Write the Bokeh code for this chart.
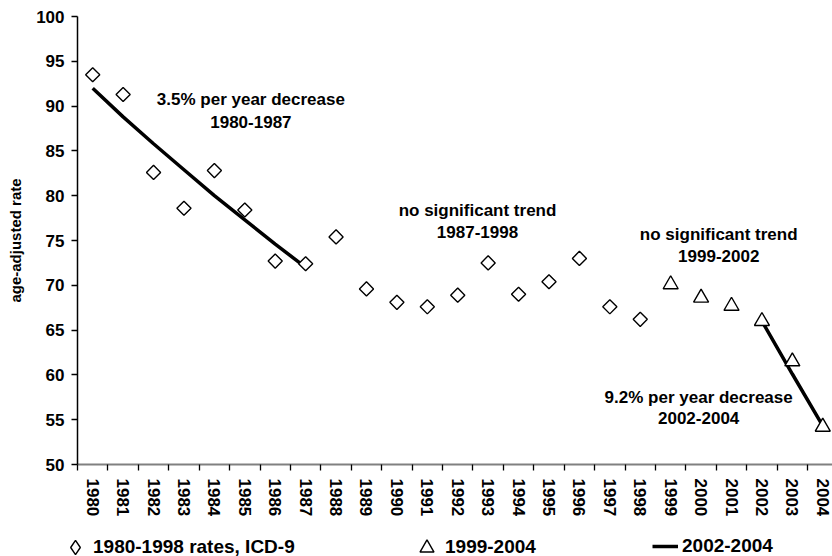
import math
from bokeh.plotting import figure
from bokeh.layouts import column
from bokeh.models import Range1d, FixedTicker, Label, Legend, LegendItem
from bokeh.embed import file_html
from bokeh.resources import INLINE

# ---------------- data ----------------
year_ticks = [1980, 1981, 1982, 1983, 1984, 1985, 1986, 1987, 1988, 1989,
              1990, 1991, 1992, 1993, 1994, 1995, 1996, 1997, 1998, 1999,
              2000, 2001, 2002, 2003, 2004]

icd9_years = [1980, 1981, 1982, 1983, 1984, 1985, 1986, 1987, 1988, 1989,
              1990, 1991, 1992, 1993, 1994, 1995, 1996, 1997, 1998]
icd9_rates = [93.5, 91.3, 82.6, 78.6, 82.8, 78.4, 72.7, 72.4, 75.4, 69.6,
              68.1, 67.6, 68.9, 72.5, 69.0, 70.4, 73.0, 67.6, 66.2]

icd10_years = [1999, 2000, 2001, 2002, 2003, 2004]
icd10_rates = [70.1, 68.6, 67.7, 66.0, 61.5, 54.2]

trend1_years = [1980, 1981, 1982, 1983, 1984, 1985, 1986, 1987]
trend1_rates = [92.0, 88.8, 85.8, 82.9, 80.0, 77.3, 74.6, 72.0]

trend2_years = [2002, 2003, 2004]
trend2_rates = [66.0, 60.1, 54.3]

y_ticks = [50, 55, 60, 65, 70, 75, 80, 85, 90, 95, 100]

legend_labels = ["1980-1998 rates, ICD-9", "1999-2004", "2002-2004"]

annotations = [
    ("3.5% per year decrease", 1985.2, 90.7),
    ("1980-1987", 1985.2, 88.2),
    ("no significant trend", 1992.65, 78.4),
    ("1987-1998", 1992.65, 76.0),
    ("no significant trend", 2000.58, 75.7),
    ("1999-2002", 2000.58, 73.3),
    ("9.2% per year decrease", 1999.92, 57.5),
    ("2002-2004", 1999.92, 55.2),
]

FONT = "Liberation Sans"

diamond_style = dict(marker="square", size=10, angle=math.pi / 4,
                     fill_color="white", line_color="black", line_width=1.4)
triangle_style = dict(marker="triangle", size=15, fill_color="white",
                      line_color="black", line_width=1.4)
trend_style = dict(line_color="black", line_width=3.5)

# ---------------- main figure ----------------
p = figure(width=832, height=520, output_backend="svg", toolbar_location=None,
           x_range=Range1d(1979.5, 2004.32), y_range=Range1d(50, 100),
           min_border_left=77, min_border_right=0, min_border_top=16,
           min_border_bottom=56)
p.outline_line_color = None
p.grid.visible = False
p.background_fill_color = "white"
p.border_fill_color = "white"

# x axis: labels at year centres, tick marks at category boundaries
xa = p.xaxis[0]
xa.ticker = FixedTicker(ticks=year_ticks,
                        minor_ticks=[y - 0.5 for y in year_ticks] + [year_ticks[-1] + 0.5])
xa.major_tick_line_color = None
xa.major_tick_out = 6
xa.major_tick_in = 0
xa.minor_tick_line_color = "black"
xa.minor_tick_line_width = 1.3
xa.minor_tick_out = 6
xa.minor_tick_in = 0
xa.axis_line_color = "#808080"
xa.axis_line_width = 2
xa.major_label_orientation = "vertical"
xa.major_label_standoff = 8
xa.major_label_text_font = FONT
xa.major_label_text_font_style = "bold"
xa.major_label_text_font_size = "17px"
xa.major_label_text_color = "black"

ya = p.yaxis[0]
ya.ticker = FixedTicker(ticks=y_ticks)
ya.axis_line_color = "black"
ya.axis_line_width = 1.5
ya.major_tick_line_color = "black"
ya.major_tick_line_width = 1.3
ya.major_tick_out = 6
ya.major_tick_in = 0
ya.minor_tick_line_color = None
ya.major_label_standoff = 7
ya.major_label_text_font = FONT
ya.major_label_text_font_style = "bold"
ya.major_label_text_font_size = "17px"
ya.major_label_text_color = "black"
ya.axis_label = "age-adjusted rate"
ya.axis_label_text_font = FONT
ya.axis_label_text_font_style = "bold"
ya.axis_label_text_font_size = "15px"
ya.axis_label_text_color = "black"
ya.axis_label_standoff = 9

p.line(trend1_years, trend1_rates, **trend_style)
p.line(trend2_years, trend2_rates, **trend_style)
p.scatter(icd9_years, icd9_rates, **diamond_style)
p.scatter(icd10_years, icd10_rates, **triangle_style)

for txt, x, y in annotations:
    p.add_layout(Label(x=x, y=y, text=txt, text_align="center",
                       text_baseline="middle", text_font=FONT,
                       text_font_style="bold", text_font_size="17px",
                       text_color="black"))

# ---------------- legend strip (below the chart) ----------------
# a strip whose ranges lie outside the data, so only its legends show
lf = figure(width=832, height=36, output_backend="svg", toolbar_location=None,
            x_range=Range1d(0, 1), y_range=Range1d(0, 1),
            x_axis_location=None, y_axis_location=None,
            min_border_left=0, min_border_right=0, min_border_top=0,
            min_border_bottom=0)
lf.outline_line_color = None
lf.grid.visible = False
lf.background_fill_color = "white"
lf.border_fill_color = "white"

# legend glyphs are drawn unrotated, so a diamond marker stands in here
lr1 = lf.scatter(icd9_years, icd9_rates, marker="diamond", fill_color="white",
                 line_color="black", line_width=1.4)
lr2 = lf.scatter(icd10_years, icd10_rates, **triangle_style)
lr3 = lf.line(trend2_years, trend2_rates, **trend_style)


def add_legend(label, rend, gw, gh, standoff, loc):
    lg = Legend(items=[LegendItem(label=label, renderers=[rend])],
                orientation="horizontal", location=loc,
                glyph_width=gw, glyph_height=gh, label_standoff=standoff,
                label_height=20, padding=0, margin=0, spacing=0,
                border_line_color=None, background_fill_alpha=0,
                label_text_font=FONT, label_text_font_style="bold",
                label_text_font_size="19px", label_text_color="black")
    lf.add_layout(lg, "center")


add_legend(legend_labels[0], lr1, 36, 36, 0, (57, -9))
add_legend(legend_labels[1], lr2, 35, 35, 1, (409, -8.5))
add_legend(legend_labels[2], lr3, 26, 20, 4, (652, -1))

layout = column(p, column(lf, spacing=0), spacing=0)
open("out.html", "w").write(file_html(layout, INLINE))
